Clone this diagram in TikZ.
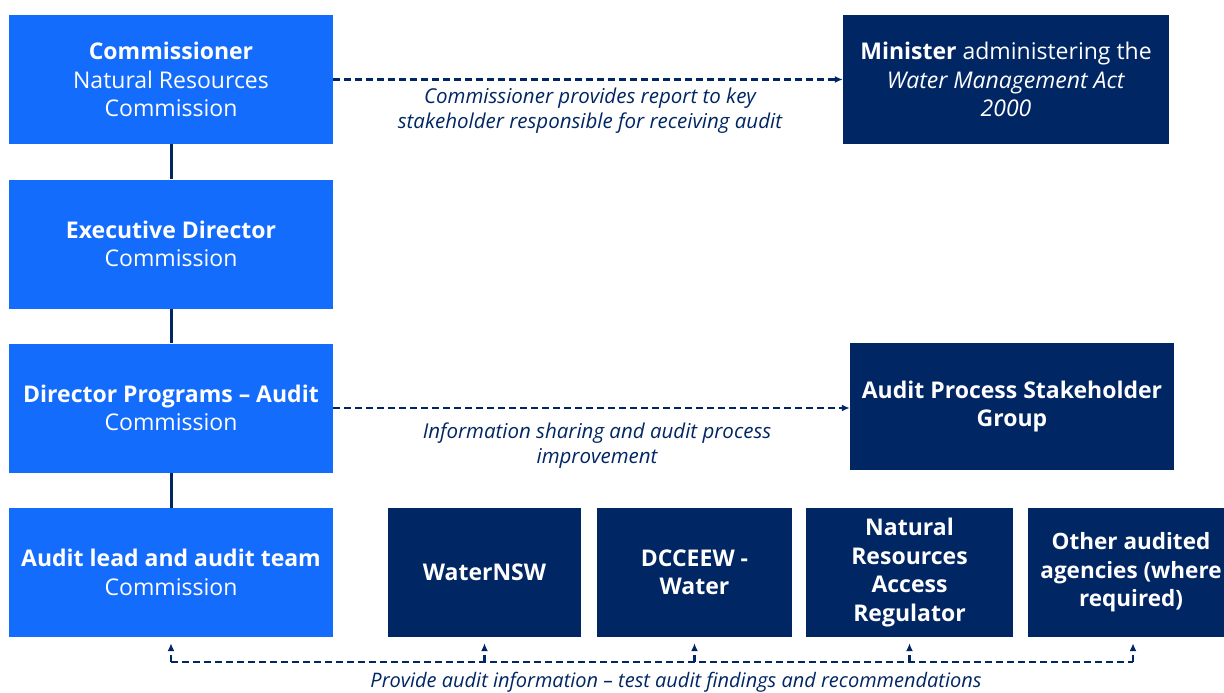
\documentclass[tikz,border=0pt]{standalone}
\usepackage{fontspec}
\setmainfont{Open Sans}
\usetikzlibrary{arrows.meta}
\definecolor{lblue}{HTML}{146CFD}
\definecolor{navy}{HTML}{002664}
\tikzset{
  lbox/.style={fill=lblue, text=white, draw=none, minimum width=324pt, minimum height=129pt, align=center, font=\fontsize{23}{28.5}\selectfont, inner sep=0pt},
  dbox/.style={fill=navy, text=white, draw=none, align=center, minimum height=129pt, font=\fontsize{23}{28.5}\bfseries\selectfont, inner sep=0pt},
  solidlink/.style={draw=navy, line width=3pt},
  dashlink/.style={draw=navy, line width=2.8pt, dash pattern=on 7pt off 4pt},
  tip/.style={-{Latex[length=8pt,width=7pt]}},
  lbl/.style={text=navy, align=center, font=\fontsize{20.5}{25}\selectfont\itshape, inner sep=0pt},
}
\begin{document}
\begin{tikzpicture}[x=1pt,y=-1pt]
\useasboundingbox[fill=white] (0,0) rectangle (1224,693);
% left column
\node[lbox] (comm) at (171,79.5) {\textbf{Commissioner}\\Natural Resources\\Commission};
\node[lbox] (exec) at (171,244) {\textbf{Executive Director}\\Commission};
\node[lbox] (dir) at (171,408) {\textbf{Director Programs -- Audit}\\Commission};
\node[lbox] (lead) at (171,572.5) {\textbf{Audit lead and audit team}\\Commission};
% right boxes
\node[dbox, minimum width=326pt, font=\fontsize{23}{28.5}\selectfont] (min) at (1006,79.5) {\textbf{Minister} administering the\\\textit{Water Management Act}\\\textit{2000}};
\node[dbox, minimum width=324pt, minimum height=127pt] (apsg) at (1012,406.5) {Audit Process Stakeholder\\Group};
\node[dbox, minimum width=193pt] (wnsw) at (484.5,572.5) {WaterNSW};
\node[dbox, minimum width=195pt] (dcc) at (694.5,572.5) {DCCEEW -\\Water};
\node[dbox, minimum width=207pt] (nrar) at (909.5,572.5) {Natural\\Resources\\Access\\Regulator};
\node[dbox, minimum width=206pt, font=\fontsize{22.5}{28.5}\bfseries\selectfont] (oth) at (1131,572.5) {Other audited\\agencies (where\\required)};
% solid links
\draw[solidlink] (comm.south) -- (exec.north);
\draw[solidlink] (exec.south) -- (dir.north);
\draw[solidlink] (dir.south) -- (lead.north);
% dashed arrows
\draw[dashlink, tip] (comm.east) -- (min.west);
\node[lbl] (l1) at (590,111) {Commissioner provides report to key\\stakeholder responsible for receiving audit};
\draw[dashlink, tip] (dir.east) -- (dir.east -| apsg.west);
\node[lbl] (l2) at (597,446) {Information sharing and audit process\\improvement};
% bottom feedback
\coordinate (y0) at (0,662);
\coordinate (c1) at (lead.south |- y0);
\coordinate (c2) at (wnsw.south |- y0);
\coordinate (c3) at (dcc.south |- y0);
\coordinate (c4) at (nrar.south |- y0);
\coordinate (c5) at (1133,662);
\draw[dashlink] (c1) -- (c5);
\foreach \c/\b in {c1/lead, c2/wnsw, c3/dcc, c4/nrar}
  \draw[dashlink, tip, shorten >=6pt] (\c) -- (\b.south);
\draw[dashlink, tip, shorten >=6pt] (c5) -- (c5 |- oth.south);
\node[lbl, font=\fontsize{20}{24}\selectfont\itshape] (l3) at (676,682) {Provide audit information -- test audit findings and recommendations};
\end{tikzpicture}
\end{document}
